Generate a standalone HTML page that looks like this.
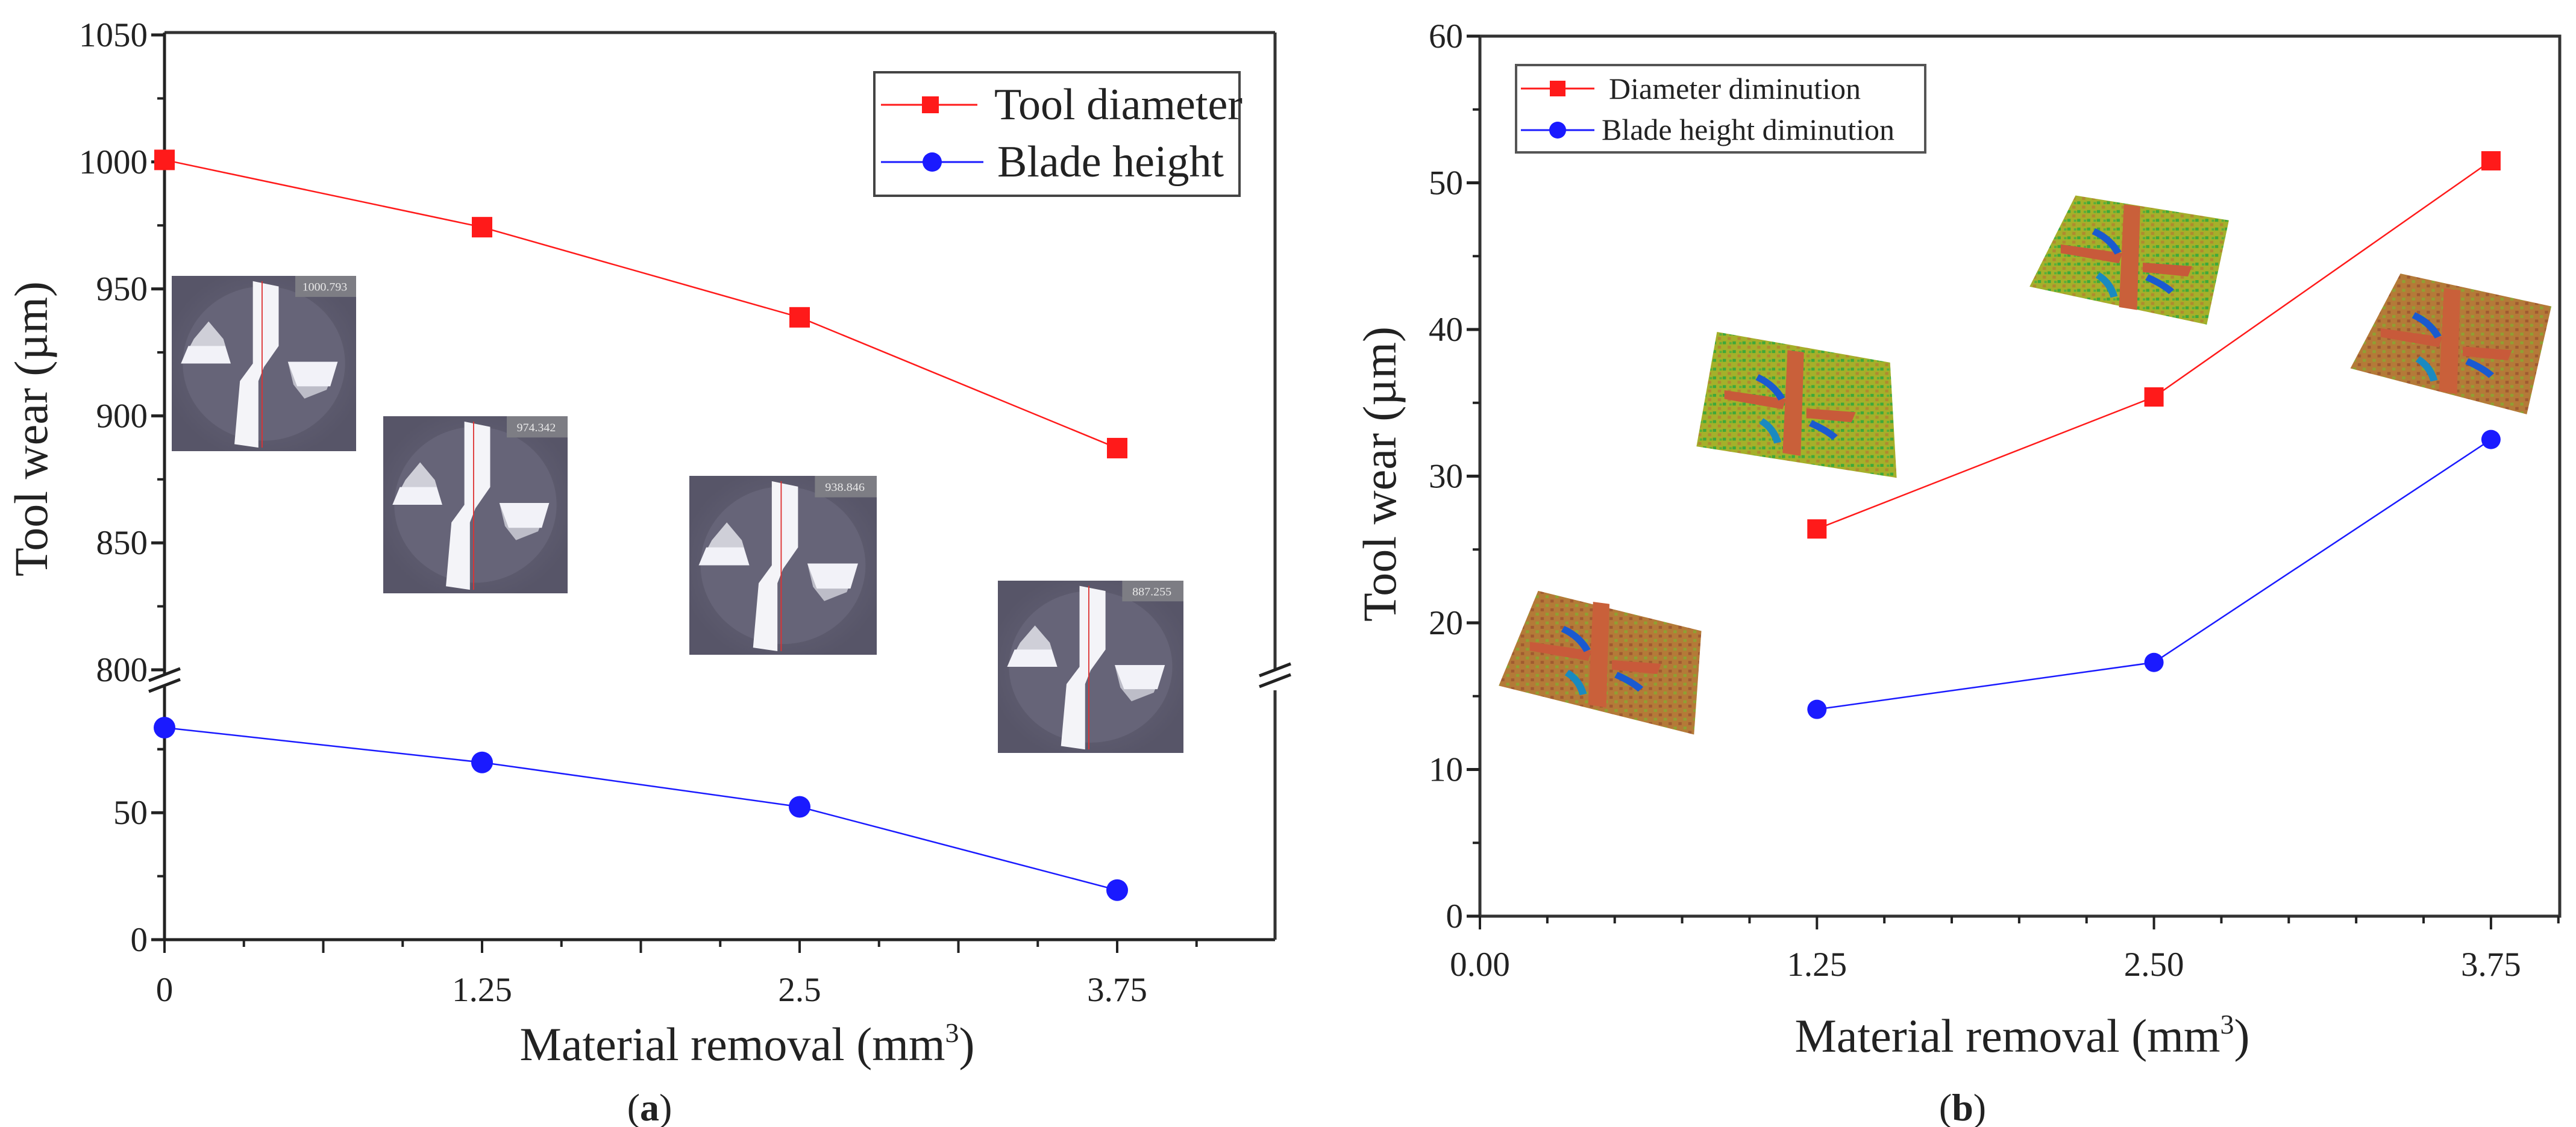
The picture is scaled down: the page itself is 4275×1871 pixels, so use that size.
<!DOCTYPE html>
<html><head><meta charset="utf-8">
<style>
html,body{margin:0;padding:0;background:#fff;}
svg{display:block;}
svg text{font-family:"Liberation Serif","DejaVu Serif",serif;}
</style></head>
<body>
<svg id="fig" width="4275" height="1871" viewBox="0 0 4275 1871" xmlns="http://www.w3.org/2000/svg" font-family="Liberation Serif, DejaVu Serif, serif">
<defs>
<pattern id="noiseG" width="12" height="12" patternUnits="userSpaceOnUse">
<rect width="12" height="12" fill="#a5b02a"/><rect x="0" y="0" width="4" height="4" fill="#3fa83a"/><rect x="6" y="6" width="4" height="4" fill="#b08a30"/><rect x="8" y="1" width="3" height="3" fill="#56b03a"/>
</pattern>
<pattern id="noiseB" width="12" height="12" patternUnits="userSpaceOnUse">
<rect width="12" height="12" fill="#b47a38"/><rect x="0" y="0" width="4" height="4" fill="#8fa032"/><rect x="6" y="6" width="4" height="4" fill="#a05a30"/>
</pattern>
<radialGradient id="micro" cx="0.5" cy="0.5" r="0.55"><stop offset="0" stop-color="#6e6c80"/><stop offset="1" stop-color="#575568"/></radialGradient>
</defs>
<g id="left"></g>
<g id="right"></g>
</svg>
<script>
// ---------- Chart (a) data ----------
const xCatsA = [0, 1.25, 2.5, 3.75];
const toolDiameter = [1000.8, 974.3, 938.8, 887.3];
const bladeHeight = [83.5, 69.8, 52.3, 19.5];
const xTickLabelsA = ["0", "1.25", "2.5", "3.75"];
const yUpperTicksA = [800, 850, 900, 950, 1000, 1050];
const yLowerTicksA = [0, 50];
// ---------- Chart (b) data ----------
const xCatsB = [1.25, 2.5, 3.75];
const diameterDim = [26.4, 35.4, 51.5];
const bladeDim = [14.1, 17.3, 32.5];
const xTickLabelsB = ["0.00", "1.25", "2.50", "3.75"];
const xTickValsB = [0, 1.25, 2.5, 3.75];
const yTicksB = [0, 10, 20, 30, 40, 50, 60];

const NS = "http://www.w3.org/2000/svg";
const FF = "Liberation Serif, DejaVu Serif, serif";
function mk(parent, tag, attrs, text) {
  const e = document.createElementNS(NS, tag);
  for (const k in attrs) e.setAttribute(k, attrs[k]);
  if (tag === 'text') e.setAttribute('font-family', FF);
  if (text !== undefined) e.textContent = text;
  parent.appendChild(e);
  return e;
}

// ======== Chart A ========
const L = document.getElementById('left');
const aL = 273, aR = 2116, aT = 54, aB = 1560;
const pxPerX = 527 / 1.25;
const xA = v => aL + v * pxPerX;
const kA = 4.216;
const yA = v => v >= 400 ? (1112 - (v - 800) * kA) : aB - v * kA;

const microA = [[285,458,306,291,"1000.793"],[636,691,306,294,"974.342"],[1144,790,311,297,"938.846"],[1656,964,308,286,"887.255"]];
microA.forEach((m, i) => {
  const g = mk(L, 'g', {transform:`translate(${m[0]},${m[1]}) scale(${m[2]/100},${m[3]/100})`});
  
  
  mk(g, 'rect', {x:0,y:0,width:100,height:100,fill:'url(#micro)'});
  mk(g, 'circle', {cx:50,cy:50,r:44,fill:'#666478'});
  mk(g, 'polygon', {points:'5,50 32,50 28,36 20,26 12,36',fill:'#cfcfd8'});
  mk(g, 'polygon', {points:'5,50 32,50 29,40 9,40',fill:'#f2f2f8'});
  mk(g, 'polygon', {points:'63,49 90,49 84,65 72,70 66,62',fill:'#bdbdc8'});
  mk(g, 'polygon', {points:'63,49 90,49 86,63 68,63',fill:'#f2f2f8'});
  mk(g, 'polygon', {points:'44,3 58,6 58,40 50,52 47,60 47,98 34,96 37,60 44,50',fill:'#f4f4f8'});
  mk(g, 'line', {x1:49,y1:3,x2:49,y2:98,stroke:'#d33',"stroke-width":0.6});
  mk(g, 'rect', {x:67,y:0,width:33,height:12,fill:'#7d7d84'});
  mk(g, 'text', {x:83,y:8.5,"font-size":6.5,fill:'#e8e8e8',"text-anchor":'middle'}, m[4]);
});

const axA = mk(L, 'g', {});


mk(axA, 'line', {x1:aL,y1:aT,x2:aR,y2:aT,stroke:'#333',"stroke-width":5});
mk(axA, 'line', {x1:aL,y1:aB,x2:aR,y2:aB,stroke:'#222',"stroke-width":5});
mk(axA, 'line', {x1:aL,y1:aT,x2:aL,y2:1118,stroke:'#222',"stroke-width":5});
mk(axA, 'line', {x1:aL,y1:1140,x2:aL,y2:aB,stroke:'#222',"stroke-width":5});
mk(axA, 'line', {x1:aR,y1:aT,x2:aR,y2:1110,stroke:'#333',"stroke-width":5});
mk(axA, 'line', {x1:aR,y1:1146,x2:aR,y2:aB,stroke:'#333',"stroke-width":5});
[[aL,1120],[aL,1138],[aR,1112],[aR,1130]].forEach(p=>{
  mk(axA,'line',{x1:p[0]-26,y1:p[1]+10,x2:p[0]+26,y2:p[1]-10,stroke:'#222',"stroke-width":5});
});
yUpperTicksA.forEach(v => {
  const y = yA(v);
  mk(axA,'line',{x1:aL-22,y1:y,x2:aL,y2:y,stroke:'#222',"stroke-width":5});
  const t = mk(axA,'text',{x:aL-28,y:y+19,"font-size":57,"text-anchor":'end',fill:'#222'}, String(v));
  
  
  if (v < 1050) { const ym = yA(v+25); mk(axA,'line',{x1:aL-12,y1:ym,x2:aL,y2:ym,stroke:'#222',"stroke-width":4}); }
});
yLowerTicksA.forEach(v => {
  const y = yA(v);
  mk(axA,'line',{x1:aL-22,y1:y,x2:aL,y2:y,stroke:'#222',"stroke-width":5});
  const t = mk(axA,'text',{x:aL-28,y:y+19,"font-size":57,"text-anchor":'end',fill:'#222'}, String(v));
  
  
  const ym = yA(v+25); mk(axA,'line',{x1:aL-12,y1:ym,x2:aL,y2:ym,stroke:'#222',"stroke-width":4});
});
{ const ym = yA(75); mk(axA,'line',{x1:aL-12,y1:ym,x2:aL,y2:ym,stroke:'#222',"stroke-width":4}); }
for (let v = 0; v <= 4.37; v += 0.3125) {
  const major = Math.abs((v/0.625) - Math.round(v/0.625)) < 1e-6;
  mk(axA,'line',{x1:xA(v),y1:aB,x2:xA(v),y2:aB+(major?22:12),stroke:'#222',"stroke-width":4});
}
xCatsA.forEach((v,i) => {
  const t = mk(axA,'text',{x:xA(v),y:1662,"font-size":57,"text-anchor":'middle',fill:'#222'}, xTickLabelsA[i]);
  
  
});
{
  const t = mk(L,'text',{x:0,y:0,transform:'translate(78,712) rotate(-90)',"font-size":78,"text-anchor":'middle',fill:'#222'},'Tool wear (µm)');
  
  
  const x = mk(L,'text',{x:1240,y:1760,"font-size":78,"text-anchor":'middle',fill:'#222'});
  
  
  x.innerHTML = 'Material removal (mm<tspan dy="-30" font-size="46">3</tspan><tspan dy="30">)</tspan>';
  const c = mk(L,'text',{x:1078,y:1860,"font-size":64,"text-anchor":'middle',fill:'#222'});
  
  
  c.innerHTML = '(<tspan font-weight="bold">a</tspan>)';
}
function series(parent, xs, ys, fx, fy, color, shape, name, size) {
  const g = mk(parent,'g',{});
  
  
  mk(g,'polyline',{points:xs.map((x,i)=>fx(x)+','+fy(ys[i])).join(' '),fill:'none',stroke:color,"stroke-width":2.5});
  xs.forEach((x,i) => {
    let m;
    if (shape === 'sq') m = mk(g,'rect',{x:fx(x)-size,y:fy(ys[i])-size,width:size*2,height:size*2,fill:color});
    else m = mk(g,'circle',{cx:fx(x),cy:fy(ys[i]),r:size,fill:color});
    
    
  });
}
series(L, xCatsA, toolDiameter, xA, yA, '#ff1a1a', 'sq', 'series-tool-diameter', 17);
series(L, xCatsA, bladeHeight, xA, yA, '#1a1aff', 'ci', 'series-blade-height', 18);
{
  const g = mk(L,'g',{});
  
  
  mk(g,'rect',{x:1451,y:120,width:606,height:205,fill:'#fff',stroke:'#444',"stroke-width":4});
  mk(g,'line',{x1:1462,y1:174,x2:1622,y2:174,stroke:'#ff1a1a',"stroke-width":3});
  mk(g,'rect',{x:1530,y:160,width:28,height:28,fill:'#ff1a1a'});
  mk(g,'text',{x:1650,y:198,"font-size":74,fill:'#222'},'Tool diameter');
  mk(g,'line',{x1:1462,y1:269,x2:1632,y2:269,stroke:'#1a1aff',"stroke-width":3});
  mk(g,'circle',{cx:1547,cy:269,r:16,fill:'#1a1aff'});
  mk(g,'text',{x:1655,y:293,"font-size":74,fill:'#222'},'Blade height');
}

// ======== Chart B ========
const R = document.getElementById('right');
const bL = 2456, bR = 4248, bT = 60, bB = 1521;
const xB = v => bL + v * (559.3 / 1.25);
const yB = v => bB - v * (bB - bT) / 60;

const surf = mk(R,'g',{transform:'translate(2140,0) scale(1.3616,1.211)'});


const surfs = [
  ['303,810 502,865 493,1007 255,940','url(#noiseB)',[378,900]],
  ['521,455 732,497 740,655 496,612','url(#noiseG)',[615,555]],
  ['958,268 1145,302 1118,445 902,393','url(#noiseG)',[1025,355]],
  ['1354,375 1538,420 1508,568 1293,505','url(#noiseB)',[1415,470]]
];
surfs.forEach((s,i) => {
  const g = mk(surf,'g',{});
  
  
  mk(g,'polygon',{points:s[0],fill:s[1]});
  const c = s[2];
  mk(g,'polygon',{points:`${c[0]-8},${c[1]-75} ${c[0]+12},${c[1]-72} ${c[0]+8},${c[1]+70} ${c[0]-14},${c[1]+66}`,fill:'#c9603a'});
  mk(g,'polygon',{points:`${c[0]-85},${c[1]-20} ${c[0]-10},${c[1]-8} ${c[0]-14},${c[1]+6} ${c[0]-85},${c[1]-8}`,fill:'#c85a3a'});
  mk(g,'polygon',{points:`${c[0]+15},${c[1]+5} ${c[0]+75},${c[1]+10} ${c[0]+70},${c[1]+24} ${c[0]+15},${c[1]+18}`,fill:'#c85a3a'});
  mk(g,'path',{d:`M${c[0]-45},${c[1]-38} q20,10 30,30`,stroke:'#1a5ad0',"stroke-width":9,fill:'none'});
  mk(g,'path',{d:`M${c[0]+20},${c[1]+25} q20,10 30,20`,stroke:'#1a5ad0',"stroke-width":9,fill:'none'});
  mk(g,'path',{d:`M${c[0]-40},${c[1]+22} q15,10 20,30`,stroke:'#1a8ac0',"stroke-width":9,fill:'none'});
});

const axB = mk(R,'g',{});


mk(axB,'rect',{x:bL,y:bT,width:bR-bL,height:bB-bT,fill:'none',stroke:'#333',"stroke-width":5});
yTicksB.forEach(v => {
  const y = yB(v);
  mk(axB,'line',{x1:bL-22,y1:y,x2:bL,y2:y,stroke:'#222',"stroke-width":5});
  if (v < 60) { const ym = yB(v+5); mk(axB,'line',{x1:bL-12,y1:ym,x2:bL,y2:ym,stroke:'#222',"stroke-width":4}); }
  const t = mk(axB,'text',{x:bL-28,y:y+19,"font-size":57,"text-anchor":'end',fill:'#222'}, String(v));
  
  
});
for (let v = 0; v <= 4.0; v += 0.25) {
  const major = Math.abs(v/1.25 - Math.round(v/1.25)) < 1e-6;
  mk(axB,'line',{x1:xB(v),y1:bB,x2:xB(v),y2:bB+(major?22:12),stroke:'#222',"stroke-width":4});
}
xTickValsB.forEach((v,i) => {
  const t = mk(axB,'text',{x:xB(v),y:1620,"font-size":57,"text-anchor":'middle',fill:'#222'}, xTickLabelsB[i]);
  
  
});
{
  const t = mk(R,'text',{x:0,y:0,transform:'translate(2316,787) rotate(-90)',"font-size":78,"text-anchor":'middle',fill:'#222'},'Tool wear (µm)');
  
  
  const x = mk(R,'text',{x:3356,y:1746,"font-size":78,"text-anchor":'middle',fill:'#222'});
  
  
  x.innerHTML = 'Material removal (mm<tspan dy="-30" font-size="46">3</tspan><tspan dy="30">)</tspan>';
  const c = mk(R,'text',{x:3257,y:1860,"font-size":64,"text-anchor":'middle',fill:'#222'});
  
  
  c.innerHTML = '(<tspan font-weight="bold">b</tspan>)';
}
series(R, xCatsB, diameterDim, xB, yB, '#ff1a1a', 'sq', 'series-diameter-diminution', 16);
series(R, xCatsB, bladeDim, xB, yB, '#1a1aff', 'ci', 'series-blade-height-diminution', 16);
{
  const g = mk(R,'g',{});
  
  
  mk(g,'rect',{x:2516,y:108,width:679,height:145,fill:'#fff',stroke:'#555',"stroke-width":4});
  mk(g,'line',{x1:2524,y1:147,x2:2646,y2:147,stroke:'#ff1a1a',"stroke-width":3});
  mk(g,'rect',{x:2572,y:134,width:26,height:26,fill:'#ff1a1a'});
  mk(g,'text',{x:2670,y:164,"font-size":50,fill:'#222'},'Diameter diminution');
  mk(g,'line',{x1:2524,y1:216,x2:2646,y2:216,stroke:'#1a1aff',"stroke-width":3});
  mk(g,'circle',{cx:2585,cy:216,r:14,fill:'#1a1aff'});
  mk(g,'text',{x:2658,y:232,"font-size":50,fill:'#222'},'Blade height diminution');
}
</script>
</body></html>
